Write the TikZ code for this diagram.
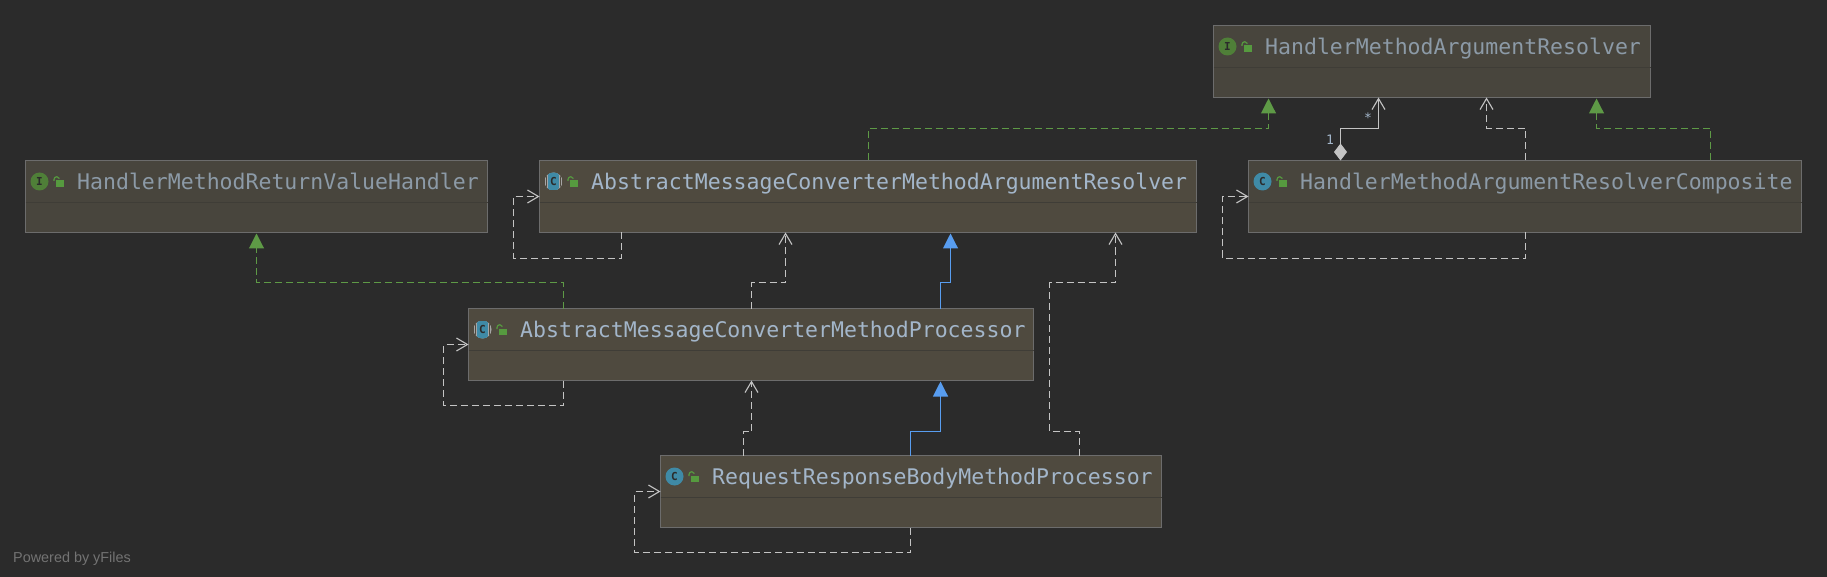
\documentclass[tikz,border=0pt]{standalone}
\usepackage{fontspec}
\setmainfont{Liberation Sans}
\newfontfamily\umlmono{DejaVu Sans Mono}
\usetikzlibrary{arrows.meta}
\definecolor{bgc}{HTML}{2B2B2B}
\definecolor{fillA}{HTML}{4F4A3F}
\definecolor{fillI}{HTML}{48453D}
\definecolor{edgeb}{HTML}{6C6C6C}
\definecolor{divc}{HTML}{3F3D37}
\definecolor{titleA}{HTML}{A3B6CA}
\definecolor{titleI}{HTML}{8C9AA7}
\definecolor{depc}{HTML}{C4C4C4}
\definecolor{implc}{HTML}{5E9A46}
\definecolor{extc}{HTML}{589DF0}
\definecolor{icoG}{HTML}{4F7F38}
\definecolor{icoB}{HTML}{3F8AA6}
\definecolor{lockc}{HTML}{569A3F}
\tikzset{
  classnode/.style={draw=edgeb,line width=1.4pt,rectangle,inner sep=0pt,outer sep=0pt,minimum height=72pt,anchor=north west},
  titlenode/.style={anchor=base west,inner sep=0pt,font=\umlmono\fontsize{21.52pt}{24pt}\selectfont},
  dep/.style={draw=depc,line width=1.1pt,dash pattern=on 7pt off 4pt,-{Straight Barb[length=11pt,width=13pt,line width=1.1pt]}},
  impl/.style={draw=implc,line width=1.1pt,dash pattern=on 7pt off 4pt,-{Triangle[length=15pt,width=15pt,fill=implc]}},
  ext/.style={draw=extc,line width=1.1pt,-{Triangle[length=15pt,width=15pt,fill=extc]}},
  comp/.style={draw=depc,line width=1.1pt,{Diamond[length=17pt,width=13pt,fill=depc]}-{Straight Barb[length=11pt,width=13pt,line width=1.1pt]}},
  mult/.style={inner sep=0pt,text=titleA,font=\umlmono\fontsize{13pt}{14pt}\selectfont},
  icoletter/.style={inner sep=0pt,text=bgc,font=\umlmono\bfseries\fontsize{11pt}{12pt}\selectfont},
}
% name, left, top, width, fill, title colour, title
\newcommand\classbox[7]{%
  \node[classnode,fill=#5,minimum width=#4pt] (#1) at (#2,#3) {};
  \draw[divc,line width=1.3pt] ([yshift=-42pt]#1.north west) -- ([yshift=-42pt]#1.north east);
  \node[titlenode,text=#6] at ([xshift=51.5pt,yshift=-29pt]#1.north west) {#7};
  \fill[lockc] ([xshift=30pt,yshift=-20pt]#1.north west) rectangle ([xshift=38pt,yshift=-26.5pt]#1.north west);
  \draw[lockc,line width=1.2pt] ([xshift=28.5pt,yshift=-20.5pt]#1.north west) -- ([xshift=28.5pt,yshift=-19pt]#1.north west) arc[start angle=180,end angle=20,radius=2.8pt];
}
\newcommand\iconI[1]{%
  \fill[icoG] ([xshift=14pt,yshift=-21pt]#1.north west) circle[radius=9pt];
  \node[icoletter] at ([xshift=14pt,yshift=-21pt]#1.north west) {I};
}
\newcommand\iconC[1]{%
  \fill[icoB] ([xshift=14pt,yshift=-21pt]#1.north west) circle[radius=9pt];
  \node[icoletter] at ([xshift=14pt,yshift=-21pt]#1.north west) {C};
}
\newcommand\iconAC[1]{%
  \begin{scope}
    \clip ([xshift=14pt,yshift=-21pt]#1.north west) circle[radius=9pt];
    \fill[gray!70] ([xshift=5pt,yshift=-12pt]#1.north west) rectangle ([xshift=23pt,yshift=-30pt]#1.north west);
    \fill[fillA] ([xshift=6.5pt,yshift=-12pt]#1.north west) rectangle ([xshift=7.7pt,yshift=-30pt]#1.north west);
    \fill[fillA] ([xshift=20.3pt,yshift=-12pt]#1.north west) rectangle ([xshift=21.5pt,yshift=-30pt]#1.north west);
    \fill[icoB] ([xshift=8.5pt,yshift=-12pt]#1.north west) rectangle ([xshift=19.5pt,yshift=-30pt]#1.north west);
  \end{scope}
  \node[icoletter] at ([xshift=14pt,yshift=-21pt]#1.north west) {C};
}
\begin{document}
\begin{tikzpicture}[x=1pt,y=-1pt]
\useasboundingbox (0,0) rectangle (1827,577);
\fill[bgc] (0,0) rectangle (1827,577);

\classbox{har}{1213.5}{25.5}{437}{fillI}{titleI}{HandlerMethodArgumentResolver}
\classbox{ret}{25.5}{160.5}{462}{fillI}{titleI}{HandlerMethodReturnValueHandler}
\classbox{amar}{539.5}{160.5}{657}{fillA}{titleA}{AbstractMessageConverterMethodArgumentResolver}
\classbox{cmp}{1248.5}{160.5}{553}{fillI}{titleI}{HandlerMethodArgumentResolverComposite}
\classbox{amp}{468.5}{308.5}{565}{fillA}{titleA}{AbstractMessageConverterMethodProcessor}
\classbox{rrb}{660.5}{455.5}{501}{fillA}{titleA}{RequestResponseBodyMethodProcessor}
\iconI{har}
\iconI{ret}
\iconAC{amar}
\iconC{cmp}
\iconAC{amp}
\iconC{rrb}

% top row to interface
\draw[impl] ([xshift=329pt]amar.north west) -- ++(0,-32) -| ([xshift=55pt,yshift=-1pt]har.south west);
\draw[comp] ([xshift=92pt]cmp.north west) -- ++(0,-32) -| ([xshift=165pt]har.south west);
\draw[dep] ([xshift=277pt]cmp.north west) -- ++(0,-32) -| ([xshift=273pt]har.south west);
\draw[impl] ([xshift=462pt]cmp.north west) -- ++(0,-32) -| ([xshift=383pt,yshift=-1pt]har.south west);
\node[mult] (star) at (1368,118) {*};
\node[mult] (one) at (1330,140) {1};

% self loops
\draw[dep] ([xshift=277pt]cmp.south west) -- ++(0,26) -- ++(-303,0) |- ([yshift=-36pt]cmp.north west);
\draw[dep] ([xshift=82pt]amar.south west) -- ++(0,26) -- ++(-108,0) |- ([yshift=-36pt]amar.north west);
\draw[dep] ([xshift=95pt]amp.south west) -- ++(0,25) -- ++(-120,0) |- ([yshift=-36pt]amp.north west);
\draw[dep] ([xshift=250pt]rrb.south west) -- ++(0,25) -- ++(-276,0) |- ([yshift=-36pt]rrb.north west);

% middle row
\draw[impl] ([xshift=95pt]amp.north west) -- ++(0,-26) -| ([xshift=231pt,yshift=-1pt]ret.south west);
\draw[dep] ([xshift=283pt]amp.north west) -- ++(0,-26) -| ([xshift=246pt]amar.south west);
\draw[ext] ([xshift=472pt]amp.north west) -- ++(0,-26) -| ([xshift=411pt,yshift=-1pt]amar.south west);

% bottom row
\draw[dep] ([xshift=83pt]rrb.north west) -- ++(0,-24) -| ([xshift=283pt]amp.south west);
\draw[ext] ([xshift=250pt]rrb.north west) -- ++(0,-24) -| ([xshift=472pt,yshift=-1pt]amp.south west);
\draw[dep] ([xshift=419pt]rrb.north west) -- ++(0,-24) -- ++(-30,0) -- ++(0,-149) -| ([xshift=576pt]amar.south west);

\node[anchor=base west,inner sep=0pt,text=gray!85!bgc,font=\fontsize{14.4pt}{17pt}\selectfont] (yf) at (13,562) {Powered by yFiles};
\end{tikzpicture}
\end{document}
